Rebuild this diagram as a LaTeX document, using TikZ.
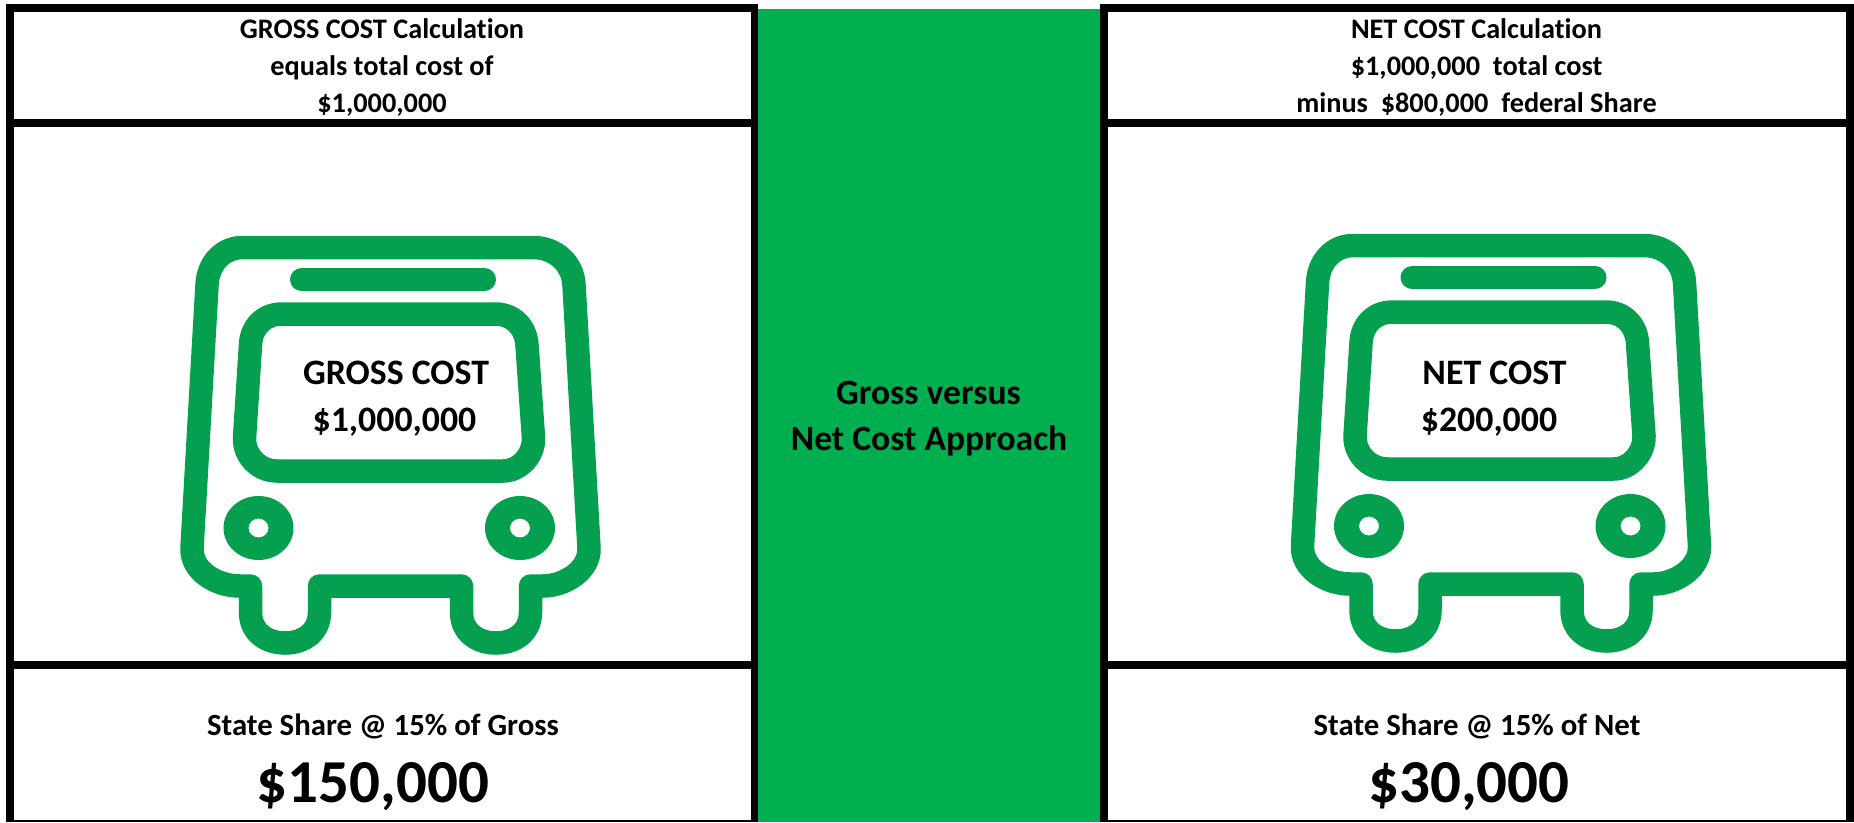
\documentclass[tikz,border=0pt]{standalone}
\usepackage{fontspec}
\setmainfont{Carlito}[Ligatures=NoCommon]
\definecolor{bandgreen}{HTML}{00B050}
\definecolor{busgreen}{HTML}{04A04F}
\tikzset{
  busline/.style={draw=busgreen,line width=23.5pt,line join=round,line cap=round},
  lamp/.style={fill=busgreen,even odd rule},
  lbl/.style={inner sep=0pt,anchor=base,font=\bfseries,text=black},
  hdr/.style={lbl,font=\fontsize{28.3}{32}\selectfont\bfseries},
  share/.style={lbl,font=\fontsize{30.8}{36}\selectfont\bfseries},
  big/.style={lbl,font=\fontsize{61}{70}\selectfont\bfseries},
  wintext/.style={lbl,font=\fontsize{35.8}{40}\selectfont\bfseries},
  midtext/.style={lbl,font=\fontsize{35.6}{40}\selectfont\bfseries},
}
\newcommand{\drawbus}{%
  \path[busline] (243,247.5) -- (533,247.5)
    .. controls (556,247.5) and (573,264) .. (574,285)
    -- (589,548)
    .. controls (590,570) and (565,586) .. (543,586)
    -- (530.5,586) -- (530.5,612)
    .. controls (530.5,632) and (515,643) .. (496,643)
    .. controls (477,643) and (461.5,632) .. (461.5,612)
    -- (461.5,586) -- (319.5,586) -- (319.5,612)
    .. controls (319.5,632) and (304,643) .. (285,643)
    .. controls (266,643) and (250.5,632) .. (250.5,612)
    -- (250.5,586) -- (240,586)
    .. controls (215,586) and (191,570) .. (192,548)
    -- (207,285)
    .. controls (208,264) and (222,247.5) .. (243,247.5) -- cycle;
  \path[busline,line width=23pt] (301.5,279.5) -- (484.5,279.5);
  \path[busline] (282,314) -- (495,314)
    .. controls (514,314) and (526,328) .. (527,345)
    -- (533.5,438)
    .. controls (534,455) and (520,471) .. (503,471)
    -- (277,471)
    .. controls (258,471) and (244,455) .. (244.5,438)
    -- (250.5,345)
    .. controls (251,328) and (263,314) .. (282,314) -- cycle;
  \path[lamp] (258.5,528) ellipse [x radius=35,y radius=32] (258.5,528) ellipse [x radius=10,y radius=9.5];
  \path[lamp] (520,528) ellipse [x radius=35,y radius=32] (520,528) ellipse [x radius=10,y radius=9.5];
}
\begin{document}
\begin{tikzpicture}[x=1pt,y=-1pt]
\useasboundingbox (0,0) rectangle (1854,822);
\fill[white] (0,0) rectangle (1854,822);
\fill[bandgreen] (758,9) rectangle (1100,822);
\fill[black] (6,4) rectangle (758,822);
\fill[black] (1100,4) rectangle (1854,822);
\fill[white] (14,12) rectangle (751,119);
\fill[white] (14,127) rectangle (751,661);
\fill[white] (14,669) rectangle (751,820);
\fill[white] (1108,12) rectangle (1846,119);
\fill[white] (1108,127) rectangle (1846,661);
\fill[white] (1108,669) rectangle (1846,820);
\begin{scope}
  \drawbus
\end{scope}
\begin{scope}[shift={(1110.5,-2)}]
  \drawbus
\end{scope}
\node[hdr] (gh1) at (382,38) {GROSS COST Calculation};
\node[hdr] (gh2) at (382,75) {equals total cost of};
\node[hdr] (gh3) at (382,112) {\$1,000,000};
\node[hdr] (nh1) at (1476.5,38) {NET COST Calculation};
\node[hdr] (nh2) at (1476.5,75) {\$1,000,000\ \ total cost};
\node[hdr] (nh3) at (1476.5,112) {minus\ \ \$800,000\ \ federal Share};
\node[wintext] (gw1) at (396,384) {GROSS COST};
\node[wintext] (gw2) at (394.5,431) {\$1,000,000};
\node[wintext] (nw1) at (1494.5,384) {NET COST};
\node[wintext] (nw2) at (1489,431) {\$200,000};
\node[midtext] (m1) at (928.5,404) {Gross versus};
\node[midtext] (m2) at (929,450) {Net Cost Approach};
\node[share] (gs) at (383,735) {State Share @ 15\% of Gross};
\node[share] (ns) at (1477,735) {State Share @ 15\% of Net};
\node[big] (gb) at (373,802) {\$150,000};
\node[big] (nb) at (1469,802) {\$30,000};
\end{tikzpicture}
\end{document}
